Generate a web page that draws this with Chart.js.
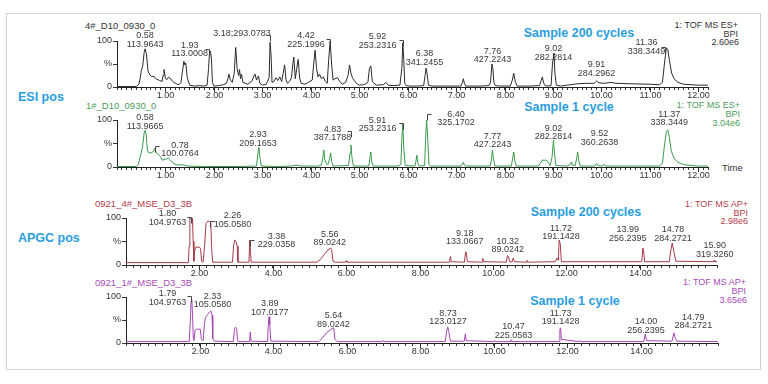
<!DOCTYPE html>
<html><head><meta charset="utf-8">
<script src="https://cdn.jsdelivr.net/npm/chart.js@4.4.0/dist/chart.umd.min.js"></script>
<style>
html,body{margin:0;padding:0;}
body{width:768px;height:384px;background:#fff;position:relative;overflow:hidden;font-family:"Liberation Sans",Arial,sans-serif;}
.frame{position:absolute;left:6px;top:13px;width:753px;height:355px;border:1px solid #d2d2d2;}
canvas{position:absolute;}
.t{position:absolute;white-space:nowrap;line-height:1;}
.blue{color:#2a9de0;font-weight:bold;font-size:12.5px;}
.sm{font-size:9px;}
.l{transform:translateY(-50%);}
.c{transform:translate(-50%,-50%);}
.k{color:#333;}.g{color:#4a9e5a;}.rd{color:#b4404f;}.pu{color:#a64cb8;}
</style></head><body>
<div class="frame"></div>
<div class="t blue l" style="left:18px;top:97px">ESI pos</div>
<div class="t blue l" style="left:18px;top:238px">APGC pos</div>
<div class="t blue c" style="left:579px;top:33px">Sample 200 cycles</div>
<div class="t blue c" style="left:569px;top:107px">Sample 1 cycle</div>
<div class="t blue c" style="left:586px;top:212px">Sample 200 cycles</div>
<div class="t blue c" style="left:575px;top:301px">Sample 1 cycle</div>

<div class="t sm l k" style="left:85px;top:26px;font-size:9.5px">4#_D10_0930_0</div>
<div class="t sm l g" style="left:86px;top:106px;font-size:9.5px">1#_D10_0930_0</div>
<div class="t sm l rd" style="left:95px;top:204px;font-size:9.5px">0921_4#_MSE_D3_3B</div>
<div class="t sm l pu" style="left:95px;top:283px;font-size:9.5px">0921_1#_MSE_D3_3B</div>

<div class="t sm l k" style="right:30px;top:25px">1: TOF MS ES+</div>
<div class="t sm l k" style="right:30px;top:33.5px">BPI</div>
<div class="t sm l k" style="right:29px;top:42px">2.60e6</div>
<div class="t sm l g" style="right:28px;top:105px">1: TOF MS ES+</div>
<div class="t sm l g" style="right:28px;top:114px">BPI</div>
<div class="t sm l g" style="right:28px;top:122.5px">3.04e6</div>
<div class="t sm l rd" style="right:20px;top:204px">1: TOF MS AP+</div>
<div class="t sm l rd" style="right:20px;top:212.5px">BPI</div>
<div class="t sm l rd" style="right:20px;top:221px">2.98e6</div>
<div class="t sm l pu" style="right:22px;top:282px">1: TOF MS AP+</div>
<div class="t sm l pu" style="right:22px;top:291px">BPI</div>
<div class="t sm l pu" style="right:21px;top:300px">3.65e6</div>
<div class="t sm l k" style="left:722px;top:168px;font-size:9.5px">Time</div>

<canvas id="c1" width="661" height="76" style="left:77px;top:27px"></canvas>
<canvas id="c2" width="661" height="73" style="left:77px;top:110px"></canvas>
<canvas id="c3" width="661" height="73" style="left:86px;top:208px"></canvas>
<canvas id="c4" width="662" height="71" style="left:86px;top:288px"></canvas>

<script>
// ---------- DATA ----------
const yTickValues = [0, 50, 100];
const yTickLabels = ["0", "%", "100"];
const esiTickLabels = ["1.00", "2.00", "3.00", "4.00", "5.00", "6.00", "7.00", "8.00", "9.00", "10.00", "11.00", "12.00"];
const apgcTickLabels = ["2.00", "4.00", "6.00", "8.00", "10.00", "12.00", "14.00"];

// ESI pos, sample 200 cycles (retention time, min / % intensity)
const esi200Time = [
0, 0.40, 0.45, 0.48, 0.50, 0.53, 0.56, 0.58, 0.61, 0.64,
0.68, 0.72, 0.76, 0.78, 0.82, 0.88, 0.93, 0.95, 0.97, 1.00,
1.03, 1.06, 1.10, 1.15, 1.22, 1.28, 1.32, 1.36, 1.38, 1.40,
1.42, 1.45, 1.50, 1.60, 1.70, 1.80, 1.86, 1.89, 1.91, 1.93,
1.95, 1.97, 2.00, 2.10, 2.20, 2.26, 2.29, 2.31, 2.34, 2.38,
2.42, 2.45, 2.48, 2.51, 2.53, 2.55, 2.57, 2.60, 2.65, 2.70,
2.78, 2.82, 2.85, 2.88, 2.92, 2.95, 3.00, 3.08, 3.14, 3.16,
3.18, 3.20, 3.24, 3.28, 3.32, 3.36, 3.40, 3.43, 3.46, 3.49,
3.52, 3.56, 3.60, 3.63, 3.65, 3.68, 3.71, 3.74, 3.77, 3.80,
3.88, 3.95, 4.03, 4.06, 4.09, 4.12, 4.15, 4.18, 4.22, 4.26,
4.30, 4.34, 4.37, 4.40, 4.43, 4.46, 4.50, 4.55, 4.60, 4.65,
4.72, 4.77, 4.80, 4.83, 4.86, 4.90, 4.94, 5.00, 5.10, 5.18,
5.21, 5.24, 5.27, 5.35, 5.50, 5.55, 5.60, 5.70, 5.84, 5.88,
5.90, 5.92, 5.94, 5.97, 6.05, 6.20, 6.33, 6.36, 6.38, 6.40,
6.43, 6.50, 6.80, 7.10, 7.13, 7.15, 7.17, 7.20, 7.50, 7.68,
7.71, 7.74, 7.76, 7.78, 7.81, 7.90, 8.12, 8.16, 8.19, 8.22,
8.26, 8.50, 8.72, 8.76, 8.78, 8.81, 8.85, 8.96, 8.99, 9.02,
9.04, 9.07, 9.15, 9.30, 9.50, 9.70, 9.85, 9.90, 9.95, 10.05,
10.20, 10.30, 10.60, 11.00, 11.20, 11.26, 11.30, 11.34, 11.37, 11.40,
11.45, 11.50, 11.58, 11.70, 11.85, 12.00, 12.20
];
const esi200Pct = [
1, 1, 6, 20, 35, 45, 75, 83, 70, 35,
26, 22, 24, 20, 17, 14, 12, 25, 38, 18,
16, 21, 19, 12, 7, 5, 10, 40, 56, 48,
52, 20, 4, 2, 3, 2, 4, 40, 75, 78,
60, 10, 2, 3, 5, 8, 18, 28, 15, 10,
30, 86, 40, 25, 38, 18, 28, 10, 8, 6,
12, 22, 28, 15, 24, 8, 4, 6, 20, 97,
70, 10, 12, 20, 14, 22, 12, 30, 48, 15,
8, 12, 20, 50, 65, 18, 40, 60, 20, 8,
6, 10, 15, 50, 80, 40, 22, 28, 18, 22,
12, 8, 60, 100, 50, 15, 18, 20, 12, 6,
10, 25, 48, 30, 20, 14, 8, 4, 5, 10,
40, 46, 12, 4, 5, 10, 4, 3, 4, 40,
96, 60, 8, 3, 2, 2, 3, 25, 41, 30,
4, 2, 2, 2, 10, 18, 8, 2, 2, 3,
10, 50, 40, 10, 3, 2, 2, 15, 30, 12,
2, 2, 3, 15, 22, 8, 2, 3, 50, 74,
30, 4, 2, 4, 7, 8, 8, 13, 9, 8,
10, 8, 7, 6, 5, 10, 50, 85, 82, 60,
30, 18, 10, 6, 5, 4, 4
];
const esi200PeakRT   = ["0.58", "1.93", "3.18;293.0783", "4.42", "5.92", "6.38", "7.76", "9.02", "9.91", "11.36"];
const esi200PeakMass = ["113.9643", "113.0008", "", "225.1996", "253.2316", "341.2455", "427.2243", "282.2814", "284.2962", "338.3449"];

// ESI pos, sample 1 cycle
const esi1Time = [
0, 0.40, 0.44, 0.47, 0.50, 0.53, 0.56, 0.58, 0.60, 0.63,
0.66, 0.70, 0.74, 0.78, 0.81, 0.85, 0.90, 0.94, 0.97, 1.02,
1.06, 1.10, 1.16, 1.25, 1.35, 1.45, 1.80, 2.50, 2.88, 2.91,
2.93, 2.95, 2.98, 3.30, 3.60, 3.70, 3.80, 4.15, 4.22, 4.25,
4.27, 4.29, 4.32, 4.35, 4.39, 4.41, 4.43, 4.46, 4.78, 4.81,
4.83, 4.85, 4.88, 5.20, 5.22, 5.24, 5.26, 5.29, 5.80, 5.86,
5.88, 5.90, 5.92, 5.95, 6.15, 6.17, 6.19, 6.21, 6.24, 6.35,
6.37, 6.39, 6.41, 6.44, 6.47, 7.10, 7.13, 7.15, 7.17, 7.20,
7.70, 7.73, 7.75, 7.77, 7.80, 8.14, 8.17, 8.19, 8.21, 8.24,
8.70, 8.74, 8.78, 8.82, 8.86, 8.90, 8.94, 8.98, 9.01, 9.03,
9.06, 9.30, 9.36, 9.38, 9.40, 9.46, 9.49, 9.51, 9.53, 9.56,
9.86, 9.90, 9.93, 10.02, 10.05, 10.08, 11.20, 11.26, 11.30, 11.34,
11.37, 11.40, 11.44, 11.50, 11.58, 11.70, 11.85, 12.00, 12.20
];
const esi1Pct = [
1, 1, 5, 18, 30, 45, 72, 78, 70, 35,
30, 30, 32, 40, 30, 27, 22, 14, 16, 17,
19, 15, 8, 4, 5, 2, 1, 1, 2, 30,
42, 20, 2, 1, 2, 4, 2, 2, 4, 20,
36, 15, 8, 4, 18, 30, 12, 2, 3, 30,
47, 20, 2, 2, 20, 32, 10, 2, 2, 5,
60, 92, 40, 3, 2, 12, 25, 8, 2, 3,
60, 100, 70, 5, 2, 2, 6, 10, 4, 2,
2, 15, 36, 20, 2, 2, 20, 32, 15, 2,
2, 8, 15, 14, 15, 10, 3, 20, 57, 30,
3, 2, 6, 11, 4, 3, 20, 32, 15, 2,
2, 8, 3, 2, 6, 2, 2, 8, 45, 75,
79, 65, 35, 18, 10, 5, 3, 2, 2
];
const esi1PeakRT   = ["0.58", "0.78", "2.93", "4.83", "5.91", "6.40", "7.77", "9.02", "9.52", "11.37"];
const esi1PeakMass = ["113.9665", "100.0764", "209.1653", "387.1788", "253.2316", "325.1702", "427.2243", "282.2814", "360.2638", "338.3449"];

// APGC pos, sample 200 cycles
const apgc200Time = [
0, 1.70, 1.72, 1.74, 1.79, 1.81, 1.83, 1.85, 1.87, 1.90,
2.00, 2.03, 2.06, 2.10, 2.14, 2.18, 2.22, 2.28, 2.31, 2.33,
2.36, 2.90, 2.93, 2.96, 3.00, 3.03, 3.05, 3.35, 3.37, 3.39,
3.41, 5.20, 5.30, 5.40, 5.50, 5.58, 5.60, 5.64, 5.70, 5.98,
6.00, 6.02, 8.80, 8.82, 8.84, 8.86, 9.22, 9.25, 9.27, 9.30,
9.70, 9.72, 9.75, 10.36, 10.39, 10.42, 10.45, 10.52, 10.55, 10.58,
10.90, 10.92, 10.94, 11.70, 11.74, 11.78, 11.80, 11.83, 11.86, 14.05,
14.08, 14.10, 14.13, 14.80, 14.84, 14.88, 14.92, 14.98, 16.00, 16.02,
16.04, 16.10
];
const apgc200Pct = [
5, 5, 40, 100, 100, 100, 50, 8, 30, 38,
38, 35, 8, 6, 40, 88, 93, 93, 90, 40,
6, 6, 40, 53, 50, 40, 6, 6, 53, 30,
6, 6, 12, 22, 32, 36, 33, 8, 6, 6,
9, 6, 6, 12, 18, 7, 6, 28, 26, 7,
6, 14, 7, 6, 20, 18, 7, 7, 15, 7,
6, 10, 6, 7, 15, 10, 53, 45, 7, 7,
36, 30, 7, 7, 30, 47, 30, 8, 7, 10,
7, 7
];
const apgc200PeakRT   = ["1.80", "2.26", "3.38", "5.56", "9.18", "10.32", "11.72", "13.99", "14.78", "15.90"];
const apgc200PeakMass = ["104.9763", "105.0580", "229.0358", "89.0242", "133.0667", "89.0242", "191.1428", "256.2395", "284.2721", "319.3260"];

// APGC pos, sample 1 cycle
const apgc1Time = [
0, 1.72, 1.75, 1.77, 1.79, 1.81, 1.83, 1.85, 1.88, 1.92,
2.02, 2.05, 2.10, 2.13, 2.16, 2.22, 2.28, 2.31, 2.34, 2.36,
2.40, 2.92, 2.95, 2.97, 3.01, 3.03, 3.05, 3.36, 3.38, 3.40,
3.85, 3.87, 3.89, 3.91, 3.94, 5.25, 5.35, 5.45, 5.55, 5.62,
5.65, 5.68, 5.75, 6.97, 7.00, 7.02, 8.68, 8.72, 8.75, 8.78,
8.82, 9.20, 9.23, 9.25, 10.00, 10.02, 10.04, 10.45, 10.47, 10.49,
11.78, 11.80, 11.82, 11.84, 12.30, 12.33, 12.35, 14.08, 14.12, 14.16,
14.85, 14.90, 14.94, 14.98, 16.10
];
const apgc1Pct = [
3, 3, 50, 90, 93, 60, 10, 5, 28, 30,
30, 8, 5, 40, 55, 62, 68, 70, 60, 10,
4, 3, 30, 34, 32, 8, 3, 3, 24, 4,
3, 40, 57, 40, 4, 3, 12, 22, 28, 32,
33, 8, 3, 3, 6, 3, 3, 25, 35, 25,
4, 4, 20, 5, 3, 6, 3, 3, 7, 3,
3, 30, 33, 8, 3, 6, 3, 3, 19, 5,
4, 22, 10, 4, 3
];
const apgc1PeakRT   = ["1.79", "2.33", "3.89", "5.64", "8.73", "10.47", "11.73", "14.00", "14.79"];
const apgc1PeakMass = ["104.9763", "105.0580", "107.0177", "89.0242", "123.0127", "225.0583", "191.1428", "256.2395", "284.2721"];

// ---------- LAYOUT (label anchors in axis units) ----------
const esi200LabelAt = [[0.58,93],[1.50,72],[2.58,97],[3.90,93],[5.38,91],[6.35,54],[7.75,59],[9.01,65],[9.90,30],[10.93,78]];
const esi200Brackets = [[1.89,83,-1],[3.15,113,-1],[4.39,104,-1],[5.90,102,-1],[11.31,87,-1]];
const esi1LabelAt = [[0.58,87],[1.30,28],[2.91,51],[4.45,62],[5.38,81],[7.00,94],[7.75,47],[9.01,64],[9.96,53],[11.40,94]];
const esi1Brackets = [[0.78,45,1],[4.83,77,-1],[5.90,94,-1],[6.39,112,1]];
const apgc200LabelAt = [[1.13,91],[2.90,87],[4.10,43],[5.55,47],[9.23,49],[10.40,32],[11.85,60],[13.67,57],[14.90,57],[16.04,23]];
const apgc200Brackets = [[1.78,102,-1],[2.30,94,1],[3.39,53,1]];
const apgc1LabelAt = [[1.13,89],[2.35,83],[3.91,67],[5.64,41],[8.76,46],[10.54,17],[11.82,46],[14.14,28],[15.43,37]];
const apgc1Brackets = [[1.78,102,-1]];

Chart.defaults.font.family = '"Liberation Sans", Arial, sans-serif';

function peakText(tops, bottoms, spots, brackets, tickLabels) {
  return {
    id: 'peakText',
    afterDraw(chart) {
      const ctx = chart.ctx, xs = chart.scales.x, ys = chart.scales.y;
      ctx.save();
      // major x ticks + labels, placed through the x scale
      ctx.strokeStyle = '#333';
      ctx.lineWidth = 1;
      ctx.fillStyle = '#333';
      ctx.font = '9px "Liberation Sans", Arial, sans-serif';
      ctx.textAlign = 'center';
      ctx.textBaseline = 'top';
      tickLabels.forEach(s => {
        const px = Math.round(xs.getPixelForValue(parseFloat(s))) + 0.5;
        ctx.beginPath();
        ctx.moveTo(px, xs.top);
        ctx.lineTo(px, xs.top + 5);
        ctx.stroke();
        ctx.fillText(s, px, xs.top + 4.5);
      });
      // peak annotations
      ctx.fillStyle = '#3a3a3a';
      ctx.textBaseline = 'middle';
      tops.forEach((txt, i) => {
        const px = xs.getPixelForValue(spots[i][0]);
        const py = ys.getPixelForValue(spots[i][1]);
        ctx.fillText(txt, px, py - 8.5);
        if (bottoms[i]) ctx.fillText(bottoms[i], px, py);
      });
      ctx.strokeStyle = '#444';
      brackets.forEach(([t, p, d]) => {
        const px = Math.round(xs.getPixelForValue(t)) + 0.5;
        const py = Math.round(ys.getPixelForValue(p)) + 0.5;
        ctx.beginPath();
        ctx.moveTo(px + 4 * d, py);
        ctx.lineTo(px, py);
        ctx.lineTo(px, py + 6);
        ctx.stroke();
      });
      ctx.restore();
    }
  };
}

function makePanel(id, times, pcts, color, xMax, minor, tickLabels, padTop, tops, bottoms, spots, brackets) {
  const pts = times.map((t, i) => ({x: t, y: pcts[i]}));
  new Chart(document.getElementById(id), {
    type: 'line',
    data: { datasets: [{ data: pts, borderColor: color, borderWidth: 1, pointRadius: 0, tension: 0, fill: false }] },
    options: {
      responsive: false, animation: false, events: [],
      layout: { padding: { top: padTop, right: 30, left: 0, bottom: 0 } },
      plugins: { legend: { display: false }, tooltip: { enabled: false } },
      scales: {
        x: {
          type: 'linear', min: 0, max: xMax,
          afterFit: s => { s.height = 16; },
          border: { display: true, color: '#222', width: 1 },
          grid: { display: true, drawOnChartArea: false, drawTicks: true, tickLength: 3, color: '#333' },
          ticks: {
            stepSize: minor, autoSkip: false, maxRotation: 0, minRotation: 0, padding: 1,
            color: '#333', font: { size: 9 },
            callback: () => ''
          }
        },
        y: {
          min: 0, max: 100,
          afterFit: s => { s.width = 40; },
          afterBuildTicks: s => { s.ticks = yTickValues.map(v => ({value: v})); },
          border: { display: true, color: '#222', width: 1 },
          grid: { display: true, drawOnChartArea: false, drawTicks: true, tickLength: 4, color: '#333' },
          ticks: {
            padding: 1, color: '#333', font: { size: 9 },
            callback: v => yTickLabels[yTickValues.indexOf(v)]
          }
        }
      }
    },
    plugins: [peakText(tops, bottoms, spots, brackets, tickLabels)]
  });
}

makePanel('c1', esi200Time, esi200Pct, '#2b2b2b', 12.2, 0.1, esiTickLabels, 14, esi200PeakRT, esi200PeakMass, esi200LabelAt, esi200Brackets);
makePanel('c2', esi1Time, esi1Pct, '#3a9a4c', 12.2, 0.1, esiTickLabels, 10, esi1PeakRT, esi1PeakMass, esi1LabelAt, esi1Brackets);
makePanel('c3', apgc200Time, apgc200Pct, '#a63a48', 16.1, 0.2, apgcTickLabels, 10, apgc200PeakRT, apgc200PeakMass, apgc200LabelAt, apgc200Brackets);
makePanel('c4', apgc1Time, apgc1Pct, '#a346b3', 16.1, 0.2, apgcTickLabels, 9, apgc1PeakRT, apgc1PeakMass, apgc1LabelAt, apgc1Brackets);
</script>
</body></html>
